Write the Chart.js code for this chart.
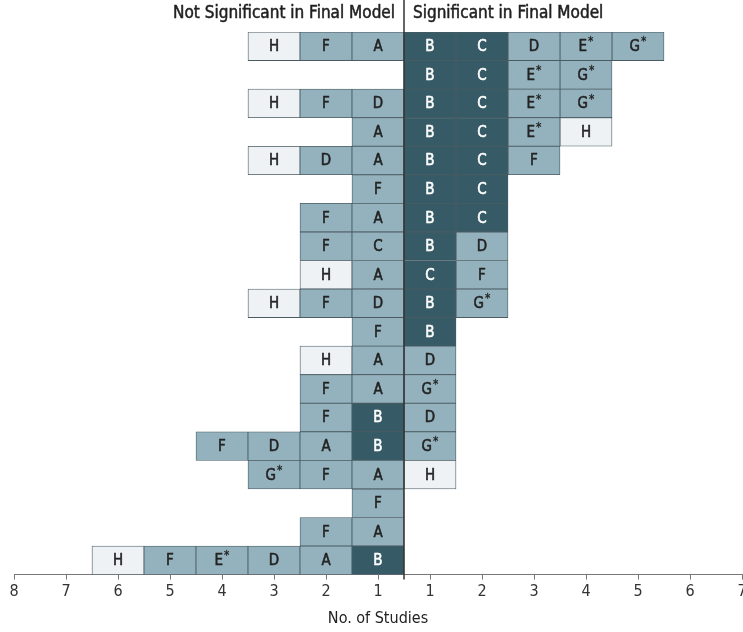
<!DOCTYPE html>
<html><head><meta charset="utf-8">
<script src="https://cdn.jsdelivr.net/npm/chart.js@4/dist/chart.umd.min.js"></script>
<style>html,body{margin:0;padding:0;background:#fff}#wrap{width:743px;height:632px;position:relative}</style>
</head><body><div id="wrap"><canvas id="c"></canvas></div>
<script>
const leftTitle = 'Not Significant in Final Model';
const rightTitle = 'Significant in Final Model';
const axisTitle = 'No. of Studies';
const leftTickLabels = [8, 7, 6, 5, 4, 3, 2, 1];
const rightTickLabels = [1, 2, 3, 4, 5, 6, 7];
// cells of each row (top to bottom), listed from the centre line outward
const leftCells = [
  ['A', 'F', 'H'],
  [],
  ['D', 'F', 'H'],
  ['A'],
  ['A', 'D', 'H'],
  ['F'],
  ['A', 'F'],
  ['C', 'F'],
  ['A', 'H'],
  ['D', 'F', 'H'],
  ['F'],
  ['A', 'H'],
  ['A', 'F'],
  ['B', 'F'],
  ['B', 'A', 'D', 'F'],
  ['A', 'F', 'G*'],
  ['F'],
  ['A', 'F'],
  ['B', 'A', 'D', 'E*', 'F', 'H']
];
const rightCells = [
  ['B', 'C', 'D', 'E*', 'G*'],
  ['B', 'C', 'E*', 'G*'],
  ['B', 'C', 'E*', 'G*'],
  ['B', 'C', 'E*', 'H'],
  ['B', 'C', 'F'],
  ['B', 'C'],
  ['B', 'C'],
  ['B', 'D'],
  ['C', 'F'],
  ['B', 'G*'],
  ['B'],
  ['D'],
  ['G*'],
  ['D'],
  ['G*'],
  ['H'],
  [],
  [],
  []
];
const darkLeft = ['B'];
const darkRight = ['B', 'C'];
const lightLetters = ['H'];

const FONT = "'Liberation Sans Narrow', 'DejaVu Sans Condensed', 'Roboto Condensed', sans-serif";
const COL_DARK = '#365b66';
const COL_MED = '#94b2bd';
const COL_LIGHT = '#eef2f5';
const COL_BORDER = '#4a5b62';

const rowIds = leftCells.map((_, i) => 'r' + i);

function shade(letter, side) {
  const l = letter.replace('*', '');
  if (lightLetters.includes(l)) return 'light';
  if ((side === 'L' ? darkLeft : darkRight).includes(l)) return 'dark';
  return 'med';
}
const fillFor = { dark: COL_DARK, med: COL_MED, light: COL_LIGHT };
const textFor = { dark: '#ffffff', med: '#222222', light: '#222222' };

function buildDatasets(cells, side) {
  const maxN = Math.max(...cells.map(r => r.length));
  const out = [];
  for (let s = 1; s <= maxN; s++) {
    const data = cells.map(r => r[s - 1] ? (side === 'L' ? [-s, -(s - 1)] : [s - 1, s]) : null);
    const txt = cells.map(r => r[s - 1] || null);
    const sh = cells.map(r => r[s - 1] ? shade(r[s - 1], side) : 'med');
    out.push({
      label: side + s,
      data: data,
      cellText: txt,
      textColor: sh.map(k => textFor[k]),
      backgroundColor: sh.map(k => fillFor[k]),
      borderColor: COL_BORDER,
      borderWidth: 0.8,
      borderSkipped: false,
      grouped: false,
      barPercentage: 1,
      categoryPercentage: 1
    });
  }
  return out;
}

const datasets = buildDatasets(leftCells, 'L').concat(buildDatasets(rightCells, 'R'));

const tickPos = leftTickLabels.map(k => -(k - 0.5)).concat(rightTickLabels.map(k => k - 0.5));
const tickText = leftTickLabels.concat(rightTickLabels).map(String);

function heavyText(ctx, s, x, y, color, sw) {
  ctx.fillStyle = color;
  ctx.strokeStyle = color;
  ctx.lineWidth = sw;
  ctx.lineJoin = 'round';
  ctx.strokeText(s, x, y);
  ctx.fillText(s, x, y);
}

const cellLabels = {
  id: 'cellLabels',
  afterDatasetsDraw(chart) {
    const ctx = chart.ctx;
    ctx.save();
    chart.data.datasets.forEach((ds, di) => {
      const meta = chart.getDatasetMeta(di);
      meta.data.forEach((el, i) => {
        const t = ds.cellText[i];
        if (!t) return;
        const cx = (el.x + el.base) / 2, cy = el.y;
        const base = t.replace('*', '');
        const star = t.includes('*');
        ctx.textBaseline = 'middle';
        ctx.textAlign = 'left';
        ctx.font = '15px ' + FONT;
        const w = ctx.measureText(base).width;
        ctx.font = '12px ' + FONT;
        const sw = star ? ctx.measureText('*').width + 1 : 0;
        const start = cx - (w + sw) / 2;
        ctx.font = '15px ' + FONT;
        heavyText(ctx, base, start, cy + 1, ds.textColor[i], 0.5);
        if (star) {
          ctx.font = '12px ' + FONT;
          heavyText(ctx, '*', start + w + 1, cy - 4, ds.textColor[i], 0.3);
        }
      });
    });
    ctx.restore();
  }
};

const frame = {
  id: 'frame',
  afterDraw(chart) {
    const ctx = chart.ctx;
    const x0 = chart.scales.x.getPixelForValue(0);
    ctx.save();
    ctx.strokeStyle = '#333';
    ctx.lineWidth = 1.5;
    ctx.beginPath();
    ctx.moveTo(x0, 0);
    ctx.lineTo(x0, chart.chartArea.bottom + 5);
    ctx.stroke();
    ctx.font = '17px ' + FONT;
    ctx.textBaseline = 'middle';
    ctx.textAlign = 'right';
    heavyText(ctx, leftTitle, x0 - 9, 14, '#1f1f1f', 0.5);
    ctx.textAlign = 'left';
    heavyText(ctx, rightTitle, x0 + 9, 14, '#1f1f1f', 0.5);
    ctx.restore();
  }
};

new Chart(document.getElementById('c'), {
  type: 'bar',
  data: { labels: rowIds, datasets: datasets },
  options: {
    indexAxis: 'y',
    responsive: true,
    maintainAspectRatio: false,
    animation: false,
    layout: { padding: { top: 32, left: 14, right: 1, bottom: 0 } },
    plugins: { legend: { display: false }, tooltip: { enabled: false } },
    scales: {
      y: { type: 'category', display: false, offset: true },
      x: {
        type: 'linear',
        min: -7.5,
        max: 6.5,
        afterBuildTicks: (scale) => { scale.ticks = tickPos.map(v => ({ value: v })); },
        afterFit: (scale) => { scale.paddingLeft = 0; scale.paddingRight = 0; },
        ticks: {
          autoSkip: false,
          maxRotation: 0,
          padding: 3,
          color: '#333',
          font: { family: FONT, size: 16 },
          callback: (v, i) => tickText[i]
        },
        grid: { drawOnChartArea: false, drawTicks: true, tickLength: 5, color: '#777' },
        border: { display: true, color: '#777', width: 1 },
        title: { display: true, text: axisTitle, color: '#222', font: { family: FONT, size: 16 }, padding: { top: 4, bottom: 4 } }
      }
    }
  },
  plugins: [cellLabels, frame]
});
</script>
</body></html>
